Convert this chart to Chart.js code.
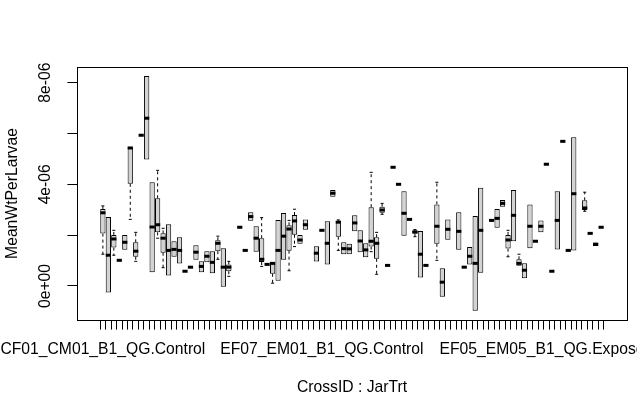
<!DOCTYPE html>
<html>
<head>
<meta charset="utf-8">
<script src="https://cdn.jsdelivr.net/npm/chart.js@4.4.1/dist/chart.umd.min.js"></script>
<style>
  html, body { margin: 0; padding: 0; background: #fff; }
  #wrap { width: 637px; height: 416px; }
</style>
</head>
<body>
<div id="wrap"><canvas id="myChart"></canvas></div>
<script>
// MeanWtPerLarvae per CrossID : JarTrt group, values in units of 1e-6
// null = empty group (nothing drawn)
const q1 = [
  2.06, -0.26, 1.51, 1.01, 1.43, 4.02, 1.15, 5.93, 4.98, 0.54,
  2.11, 1.31, 0.41, 1.15, 0.88, 0.58, 0.74, 1.03, 0.54, 0.93,
  0.50, 1.37, -0.03, 0.58, null, 2.31, 1.40, 2.57, 1.35, 0.94,
  0.85, 0.48, 0.21, 1.03, 1.39, 2.02, 1.66, 2.21, null, 0.96,
  2.19, 0.85, 3.51, 1.94, 1.25, 1.25, 2.15, 1.33, 1.13, 1.55,
  1.07, 2.88, 0.81, 4.67, 4.00, 1.98, 2.62, 2.06, 0.33, 0.81,
  null, 1.66, -0.42, 1.82, null, 1.43, 0.74, 0.85, -0.97, 0.52,
  null, 2.58, 2.29, 3.12, 1.47, 1.76, 0.80, 0.30, 1.48, 1.76,
  2.11, 4.79, 0.58, 1.44, 5.69, 1.40, 1.40, null, 2.99, 2.07,
  1.57, 2.31
];
const med = [
  2.88, 1.21, 1.85, 1.01, 1.72, 5.43, 1.37, 5.93, 6.60, 2.32,
  2.41, 1.88, 1.40, 1.44, 1.40, 0.58, 0.74, 1.33, 0.77, 1.17,
  0.93, 1.68, 0.74, 0.74, null, 2.31, 1.40, 2.73, 1.88, 1.05,
  0.85, 0.89, 1.40, 1.96, 2.24, 2.56, 1.81, 2.41, null, 1.29,
  2.19, 1.68, 3.65, 2.51, 1.47, 1.46, 2.48, 1.77, 1.42, 1.76,
  1.68, 2.99, 0.81, 4.67, 4.00, 2.86, 2.62, 2.12, 1.25, 0.81,
  null, 2.35, 0.15, 2.23, null, 2.15, 0.74, 1.17, 0.89, 2.19,
  null, 2.58, 2.66, 3.25, 1.81, 2.78, 0.89, 0.62, 2.35, 1.76,
  2.35, 4.79, 0.58, 2.58, 5.69, 1.40, 3.63, null, 3.07, 2.07,
  1.64, 2.31
];
const q3 = [
  3.03, 2.71, 2.01, 1.01, 2.01, 5.46, 1.72, 5.93, 8.26, 4.08,
  3.45, 2.07, 2.43, 1.76, 1.92, 0.58, 0.74, 1.60, 0.97, 1.37,
  1.37, 1.80, 1.48, 0.85, null, 2.31, 1.40, 2.90, 2.35, 1.88,
  0.85, 0.92, 2.60, 2.87, 2.39, 2.79, 2.01, 2.62, null, 1.56,
  2.19, 2.55, 3.78, 2.56, 1.72, 1.66, 2.78, 2.19, 1.68, 3.10,
  1.92, 3.12, 0.81, 4.67, 4.00, 3.73, 2.62, 2.19, 2.16, 0.81,
  null, 3.21, 0.70, 2.62, null, 2.90, 0.74, 1.53, 2.75, 3.86,
  null, 2.58, 3.03, 3.38, 2.01, 3.78, 1.05, 0.89, 3.21, 1.76,
  2.58, 4.79, 0.58, 3.73, 5.69, 1.40, 5.85, null, 3.37, 2.07,
  1.71, 2.31
];
// whisker ends, null where the whisker sits on the box
const lo = [
  1.25, null, 1.21, null, null, 2.62, 0.97, null, null, null,
  1.88, 0.72, null, null, null, null, null, null, null, null,
  null, 1.05, null, 0.38, null, null, null, null, null, 0.77,
  null, 0.11, null, null, 0.60, 1.55, null, null, null, null,
  null, null, null, 1.40, null, null, null, null, null, 1.35,
  0.46, 2.82, null, null, null, null, null, 1.94, null, null,
  null, 1.01, null, null, null, null, null, null, null, null,
  null, null, null, null, 1.15, null, null, null, null, null,
  null, null, null, null, null, null, null, null, 2.94, null,
  null, null
];
const hi = [
  3.15, null, 2.19, null, null, null, 2.11, null, null, null,
  4.55, 2.27, null, null, null, null, null, null, null, null,
  null, 1.96, null, 0.97, null, null, null, null, null, 2.69,
  null, null, null, null, 2.58, 3.02, null, null, null, null,
  null, null, null, 2.60, null, null, null, null, null, 4.47,
  2.11, 3.25, null, null, null, null, null, 2.22, null, null,
  null, 4.08, null, null, null, null, null, null, null, null,
  null, null, null, null, 2.19, null, 1.25, null, null, null,
  null, null, null, null, null, null, null, null, 3.69, null,
  null, null
];

// only these group names fit on the axis
const xLabelIdx = [0, 40, 81];
const xLabels = ['CF01_CM01_B1_QG.Control', 'EF07_EM01_B1_QG.Control', 'EF05_EM05_B1_QG.Exposed'];
const yTickVals = [0, 2, 4, 6, 8];
const yTickLabels = ['0e+00', '', '4e-06', '', '8e-06'];

const N = q1.length;
const FONT = '"Liberation Sans", Arial, sans-serif';

const boxData = [], medData = [], capData = [], stemData = [];
for (let i = 0; i < N; i++) {
  if (q1[i] === null) continue;
  boxData.push({x: i + 1, y: [q1[i], q3[i]]});
  medData.push({x: i + 1, y: med[i]});
  if (hi[i] !== null) {
    stemData.push({x: i + 1, y: q3[i]}, {x: i + 1, y: hi[i]}, {x: i + 1, y: null});
    capData.push({x: i + 1, y: hi[i]});
  }
  if (lo[i] !== null) {
    stemData.push({x: i + 1, y: q1[i]}, {x: i + 1, y: lo[i]}, {x: i + 1, y: null});
    capData.push({x: i + 1, y: lo[i]});
  }
}

// frame round the plot and the rotated y tick labels
const frameAndLabels = {
  id: 'frameAndLabels',
  afterDraw(chart) {
    const {ctx, chartArea: a, scales: {y}} = chart;
    ctx.save();
    ctx.strokeStyle = '#000';
    ctx.lineWidth = 1;
    ctx.strokeRect(Math.round(a.left) + 0.5, Math.round(a.top) + 0.5,
      Math.round(a.right - a.left), Math.round(a.bottom - a.top));
    ctx.font = '15.7px ' + FONT;
    ctx.fillStyle = '#000';
    ctx.textAlign = 'center';
    ctx.textBaseline = 'alphabetic';
    yTickVals.forEach((v, k) => {
      if (!yTickLabels[k]) return;
      ctx.save();
      ctx.translate(a.left - 27, y.getPixelForValue(v));
      ctx.rotate(-Math.PI / 2);
      ctx.fillText(yTickLabels[k], 0, 0);
      ctx.restore();
    });
    ctx.restore();
  }
};

new Chart('myChart', {
  type: 'bar',
  data: {
    datasets: [
      {
        type: 'scatter',
        data: medData,
        pointStyle: 'line',
        pointRadius: 2.6,
        pointBorderWidth: 3,
        pointBorderColor: '#000',
        clip: false
      },
      {
        type: 'scatter',
        data: capData,
        pointStyle: 'line',
        pointRadius: 1.5,
        pointBorderWidth: 1,
        pointBorderColor: '#000',
        clip: false
      },
      {
        type: 'bar',
        data: boxData,
        grouped: false,
        backgroundColor: '#d3d3d3',
        borderColor: '#000',
        borderWidth: 1,
        borderSkipped: false,
        barPercentage: 1,
        categoryPercentage: 0.96
      },
      {
        type: 'line',
        data: stemData,
        borderColor: '#000',
        borderWidth: 1,
        borderDash: [3, 3],
        pointRadius: 0,
        spanGaps: false,
        tension: 0
      }
    ]
  },
  options: {
    responsive: true,
    maintainAspectRatio: false,
    animation: false,
    events: [],
    layout: { padding: { top: 67, right: 10, left: 0, bottom: 0 } },
    plugins: {
      legend: { display: false },
      tooltip: { enabled: false }
    },
    scales: {
      x: {
        type: 'linear',
        min: 0.5 - 0.04 * 92,
        max: 92.5 + 0.04 * 92,
        afterBuildTicks: s => { s.ticks = q1.map((v, i) => ({value: i + 1})); },
        afterFit: s => { s.height = 96; s.paddingLeft = 0; s.paddingRight = 0; },
        border: { display: false },
        grid: { display: true, drawOnChartArea: false, drawTicks: true, tickLength: 9.6, color: '#000', lineWidth: 1 },
        ticks: {
          autoSkip: false,
          maxRotation: 0,
          minRotation: 0,
          padding: 11,
          color: '#000',
          font: { family: FONT, size: 15.7 },
          callback: v => {
            const k = xLabelIdx.indexOf(v - 1);
            return k >= 0 ? xLabels[k] : '';
          }
        },
        title: {
          display: true,
          text: 'CrossID : JarTrt',
          color: '#000',
          font: { family: FONT, size: 15.7 },
          padding: { top: 0, bottom: 19 }
        }
      },
      y: {
        min: -1.338,
        max: 8.615,
        afterBuildTicks: s => { s.ticks = yTickVals.map(v => ({value: v})); },
        afterFit: s => { s.width = 77; s.paddingTop = 0; s.paddingBottom = 0; },
        border: { display: false },
        grid: { display: true, drawOnChartArea: false, drawTicks: true, tickLength: 9.6, color: '#000', lineWidth: 1 },
        ticks: { display: false },
        title: {
          display: true,
          text: 'MeanWtPerLarvae',
          color: '#000',
          font: { family: FONT, size: 15.7 },
          padding: { top: 3, bottom: 0 }
        }
      }
    }
  },
  plugins: [frameAndLabels]
});
</script>
</body>
</html>
